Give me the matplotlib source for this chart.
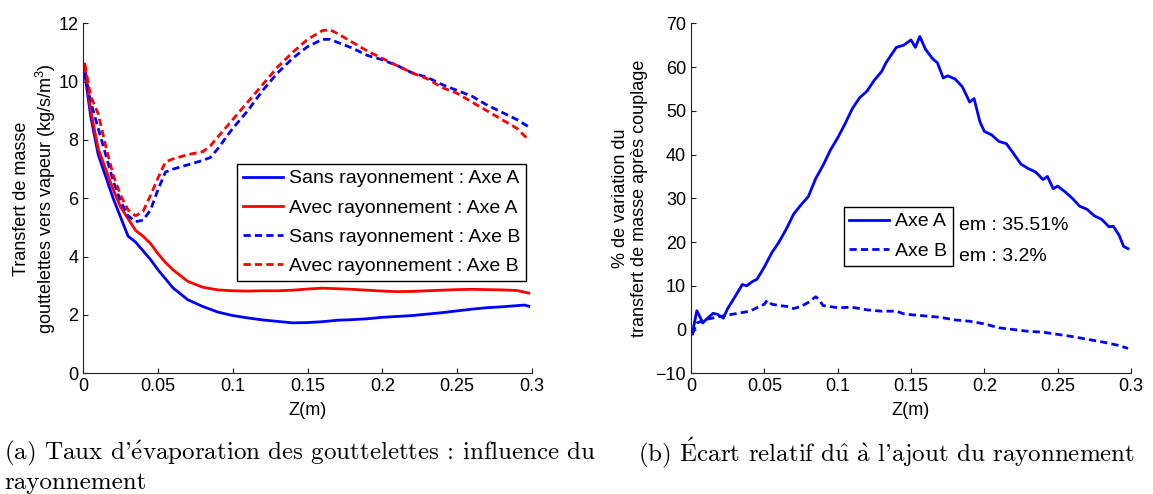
import matplotlib
matplotlib.use("Agg")
import matplotlib.pyplot as plt
import numpy as np

plt.rcParams['font.family'] = ['Liberation Sans', 'DejaVu Sans']
plt.rcParams['mathtext.fontset'] = 'custom'
plt.rcParams['mathtext.rm'] = 'Liberation Sans'
plt.rcParams['mathtext.it'] = 'Liberation Sans:italic'

# ---- panel (a): mass transfer along the two axes ----
z_sa = [0.001, 0.005, 0.01, 0.02, 0.03, 0.035, 0.04, 0.045, 0.05, 0.06, 0.07, 0.08, 0.09, 0.1,
        0.11, 0.12, 0.13, 0.14, 0.15, 0.16, 0.17, 0.18, 0.19, 0.2, 0.21, 0.22, 0.23, 0.24,
        0.25, 0.26, 0.27, 0.28, 0.29, 0.295, 0.298]
sans_a = [10.3, 8.8, 7.5, 6.0, 4.7, 4.5, 4.2, 3.9, 3.55, 2.93, 2.52, 2.29, 2.1, 1.98,
          1.9, 1.83, 1.78, 1.73, 1.74, 1.77, 1.82, 1.84, 1.87, 1.92, 1.95, 1.98, 2.03, 2.08,
          2.14, 2.2, 2.25, 2.28, 2.32, 2.34, 2.3]

z_aa = [0.001, 0.005, 0.01, 0.015, 0.02, 0.025, 0.03, 0.035, 0.04, 0.045, 0.05, 0.055, 0.06,
        0.065, 0.07, 0.08, 0.09, 0.1, 0.11, 0.12, 0.13, 0.14, 0.15, 0.16, 0.17, 0.18, 0.19,
        0.2, 0.21, 0.22, 0.23, 0.24, 0.25, 0.26, 0.27, 0.28, 0.29, 0.298]
avec_a = [10.6, 9.0, 7.7, 7.0, 6.3, 5.7, 5.3, 4.9, 4.7, 4.45, 4.1, 3.8, 3.55,
          3.35, 3.15, 2.95, 2.86, 2.83, 2.82, 2.83, 2.83, 2.85, 2.89, 2.92, 2.9, 2.88, 2.85,
          2.82, 2.8, 2.81, 2.83, 2.85, 2.87, 2.88, 2.87, 2.86, 2.84, 2.75]

z_b = [0.001, 0.005, 0.01, 0.015, 0.02, 0.025, 0.03, 0.035, 0.04, 0.045, 0.05, 0.055, 0.06,
       0.07, 0.08, 0.085, 0.09, 0.1, 0.11, 0.12, 0.13, 0.14, 0.15, 0.16, 0.165, 0.17, 0.18,
       0.19, 0.2, 0.21, 0.22, 0.23, 0.24, 0.25, 0.26, 0.27, 0.28, 0.29, 0.298]
sans_b = [10.3, 9.3, 8.4, 7.5, 6.6, 5.9, 5.4, 5.2, 5.25, 5.6, 6.3, 6.9, 7.0,
          7.15, 7.3, 7.4, 7.7, 8.4, 9.0, 9.7, 10.3, 10.8, 11.2, 11.45, 11.45, 11.35, 11.15,
          10.9, 10.75, 10.55, 10.3, 10.15, 9.9, 9.7, 9.5, 9.2, 8.95, 8.7, 8.45]
avec_b = [10.6, 9.5, 8.9, 7.8, 6.8, 6.1, 5.6, 5.4, 5.55, 6.1, 6.7, 7.25, 7.35,
          7.5, 7.6, 7.8, 8.1, 8.7, 9.3, 9.9, 10.5, 11.0, 11.45, 11.75, 11.78, 11.65, 11.35,
          11.05, 10.8, 10.55, 10.3, 10.1, 9.8, 9.6, 9.3, 9.0, 8.7, 8.4, 8.0]

legend_a = ["Sans rayonnement : Axe A", "Avec rayonnement : Axe A",
            "Sans rayonnement : Axe B", "Avec rayonnement : Axe B"]

# ---- panel (b): relative difference (%) ----
z_pa = [0.001, 0.002, 0.004, 0.006, 0.008, 0.01, 0.015, 0.018, 0.022, 0.025, 0.03, 0.035,
        0.038, 0.042, 0.045, 0.05, 0.055, 0.06, 0.065, 0.07, 0.075, 0.08, 0.085, 0.09, 0.095,
        0.1, 0.105, 0.11, 0.115, 0.12, 0.125, 0.13, 0.133, 0.14, 0.145, 0.15, 0.153, 0.156,
        0.16, 0.165, 0.168, 0.172, 0.175, 0.18, 0.185, 0.19, 0.193, 0.197, 0.2, 0.205, 0.21,
        0.215, 0.22, 0.225, 0.23, 0.235, 0.24, 0.243, 0.247, 0.25, 0.255, 0.26, 0.265, 0.27,
        0.275, 0.28, 0.285, 0.288, 0.292, 0.295, 0.298]
pct_a = [-1.0, 1.0, 4.3, 3.0, 1.5, 2.2, 3.7, 3.5, 2.6, 4.8, 7.5, 10.3,
         10.0, 11.0, 11.5, 14.3, 17.5, 20.0, 23.0, 26.4, 28.5, 30.4, 34.5, 37.5, 41.0,
         43.8, 47.0, 50.5, 53.0, 54.5, 57.0, 59.0, 61.0, 64.5, 65.0, 66.2, 64.5, 67.0,
         64.0, 61.8, 61.0, 57.5, 58.0, 57.3, 55.5, 52.0, 52.8, 47.5, 45.3, 44.5, 43.0,
         42.5, 40.2, 37.8, 36.8, 36.0, 34.3, 35.0, 32.2, 32.8, 31.5, 30.0, 28.2, 27.5,
         26.0, 25.2, 23.5, 23.6, 21.5, 19.0, 18.5]

z_pb = [0.001, 0.004, 0.01, 0.02, 0.03, 0.04, 0.045, 0.05, 0.052, 0.055, 0.06, 0.065, 0.07,
        0.075, 0.08, 0.085, 0.087, 0.09, 0.1, 0.11, 0.12, 0.13, 0.14, 0.145, 0.15, 0.16,
        0.17, 0.18, 0.19, 0.2, 0.21, 0.22, 0.23, 0.24, 0.25, 0.26, 0.27, 0.28, 0.29, 0.298]
pct_b = [-1.0, 1.5, 2.3, 3.0, 3.6, 4.2, 5.0, 5.8, 6.7, 5.8, 5.5, 5.3, 4.8,
         5.3, 6.2, 7.5, 7.0, 5.5, 5.0, 5.1, 4.5, 4.2, 4.2, 3.6, 3.4, 3.1,
         2.8, 2.2, 1.9, 1.3, 0.4, 0.0, -0.4, -0.6, -1.1, -1.6, -2.2, -2.8, -3.5, -4.3]

legend_b = ["Axe A", "Axe B"]
em_labels = ["em : 35.51%", "em : 3.2%"]

xticks = [0, 0.05, 0.1, 0.15, 0.2, 0.25, 0.3]
xticklabels = ["0", "0.05", "0.1", "0.15", "0.2", "0.25", "0.3"]

cap_a = [r"(a) Taux d'$\acute{\mathrm{e}}$vaporation des gouttelettes : influence du",
         "rayonnement"]
cap_b = r"(b) $\acute{\mathrm{E}}$cart relatif d$\hat{\mathrm{u}}$ $\grave{\mathrm{a}}$ l'ajout du rayonnement"

fs = 13
fs_leg = 14
dash = (2.6, 1.5)

fig = plt.figure(figsize=(11.53, 4.94), dpi=100)
ax1 = fig.add_axes([0.0722, 0.2443, 0.389, 0.7085])
ax2 = fig.add_axes([0.5993, 0.2443, 0.3816, 0.7085])

for ax in (ax1, ax2):
    ax.spines['top'].set_visible(False)
    ax.spines['right'].set_visible(False)
    for s in ('left', 'bottom'):
        ax.spines[s].set_linewidth(0.8)
        ax.spines[s].set_color('#222222')
    ax.tick_params(direction='in', length=3.5, width=0.8, labelsize=fs, color='#222222')
    ax.set_xlim(0, 0.3)
    ax.set_xticks(xticks)
    ax.set_xticklabels(xticklabels)
    ax.set_xlabel("Z(m)", fontsize=fs, labelpad=5)

leg_kw = dict(loc='upper right', bbox_transform=fig.transFigure, fontsize=fs_leg,
              fancybox=False, edgecolor='black', framealpha=1, handlelength=2.05,
              handletextpad=0.3, labelspacing=0.6, borderpad=0.3, borderaxespad=0)

ax1.plot(z_sa, sans_a, color='blue', lw=2, label=legend_a[0])
ax1.plot(z_aa, avec_a, color='red', lw=2, label=legend_a[1])
ax1.plot(z_b, sans_b, color='blue', lw=2, dashes=dash, label=legend_a[2])
ax1.plot(z_b, avec_b, color='red', lw=2, dashes=dash, label=legend_a[3])
ax1.set_ylim(0, 12)
ax1.set_yticks(np.arange(0, 13, 2))
ax1.set_ylabel("Transfert de masse\ngouttelettes vers vapeur (kg/s/m$^3$)", fontsize=fs, va='center')
ax1.yaxis.set_label_coords(-0.106, 0.5)
leg1 = ax1.legend(bbox_to_anchor=(526 / 1153, 1 - 164 / 494), **leg_kw)
leg1.get_frame().set_linewidth(1.0)

ax2.plot(z_pa, pct_a, color='blue', lw=2, label=legend_b[0])
ax2.plot(z_pb, pct_b, color='blue', lw=2, dashes=dash, label=legend_b[1])
ax2.set_ylim(-10, 70)
ax2.set_yticks(np.arange(-10, 71, 10))
ax2.set_ylabel("% de variation du\ntransfert de masse après couplage", fontsize=fs, va='center')
ax2.yaxis.set_label_coords(-0.139, 0.5)
leg2 = ax2.legend(bbox_to_anchor=(953 / 1153, 1 - 207 / 494), **leg_kw)
leg2.get_frame().set_linewidth(1.0)
ax2.text(0.183, 23.8, em_labels[0], fontsize=fs_leg, va='center', ha='left')
ax2.text(0.183, 16.7, em_labels[1], fontsize=fs_leg, va='center', ha='left')

cap_kw = dict(family='cmr10', math_fontfamily='cm', fontsize=18, va='center', ha='left')
fig.text(4 / 1153, 1 - 453 / 494, cap_a[0], **cap_kw)
fig.text(4 / 1153, 1 - 483 / 494, cap_a[1], **cap_kw)
fig.text(638 / 1153, 1 - 453 / 494, cap_b, **cap_kw)

fig.savefig("out.png", dpi=100)
